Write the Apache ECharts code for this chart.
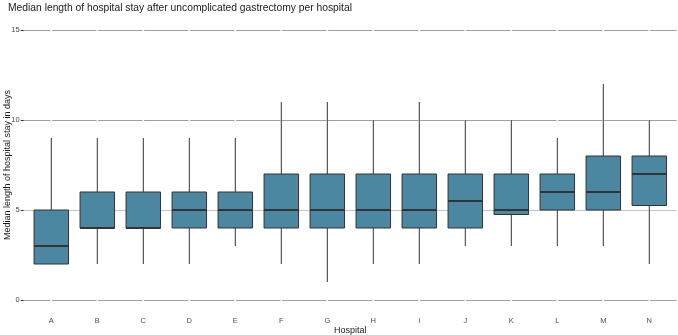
<!DOCTYPE html>
<html>
<head>
<meta charset="utf-8">
<script src="https://cdn.jsdelivr.net/npm/echarts@6/dist/echarts.min.js"></script>
<style>html,body{margin:0;padding:0;background:#fff;}#c{width:678px;height:335px;}</style>
</head>
<body>
<div id="c"></div>
<script>
const hospitals = ['A','B','C','D','E','F','G','H','I','J','K','L','M','N'];
const mins    = [2, 2, 2, 2, 3, 2, 1, 2, 2, 3, 3, 3, 3, 2];
const q1s     = [2, 4, 4, 4, 4, 4, 4, 4, 4, 4, 4.75, 5, 5, 5.25];
const medians = [3, 4, 4, 5, 5, 5, 5, 5, 5, 5.5, 5, 6, 6, 7];
const q3s     = [5, 6, 6, 6, 6, 7, 7, 7, 7, 7, 7, 7, 8, 8];
const maxs    = [9, 9, 9, 9, 9, 11, 11, 10, 11, 10, 10, 9, 12, 10];
const yTicks  = [0, 5, 10, 15];

const boxData = hospitals.map((h, i) => [i, mins[i], q1s[i], medians[i], q3s[i], maxs[i]]);
const FONT = '"Liberation Sans", Arial, sans-serif';

function renderItem(params, api) {
  const i = api.value(0);
  const band = api.size([1, 0])[0];
  const bw = band * 0.75;
  const pMin = api.coord([i, api.value(1)]);
  const pQ1 = api.coord([i, api.value(2)]);
  const pMed = api.coord([i, api.value(3)]);
  const pQ3 = api.coord([i, api.value(4)]);
  const pMax = api.coord([i, api.value(5)]);
  const gTop = api.coord([i, yTicks[yTicks.length - 1] + 0.3]);
  const gBot = api.coord([i, yTicks[0] - 0.3]);
  const x = pMed[0];
  const lineStroke = {stroke: '#333333', lineWidth: 1};
  return {
    type: 'group',
    children: [
      {type: 'line', shape: {x1: x, y1: gTop[1], x2: x, y2: gBot[1]}, style: {stroke: '#ffffff', lineWidth: 1.5}},
      {type: 'line', shape: {x1: x, y1: pQ3[1], x2: x, y2: pMax[1]}, style: lineStroke},
      {type: 'line', shape: {x1: x, y1: pMin[1], x2: x, y2: pQ1[1]}, style: lineStroke},
      {type: 'rect', shape: {x: x - bw / 2, y: pQ3[1], width: bw, height: pQ1[1] - pQ3[1]},
       style: {fill: '#4B87A0', stroke: '#333333', lineWidth: 1}},
      {type: 'line', shape: {x1: x - bw / 2, y1: pMed[1], x2: x + bw / 2, y2: pMed[1]},
       style: {stroke: '#333333', lineWidth: 2.2}}
    ]
  };
}

const chart = echarts.init(document.getElementById('c'), null, {renderer: 'canvas'});
chart.setOption({
  backgroundColor: '#ffffff',
  animation: false,
  title: {
    text: 'Median length of hospital stay after uncomplicated gastrectomy per hospital',
    left: 8, top: 3, padding: 0,
    textStyle: {fontFamily: FONT, fontSize: 10.3, fontWeight: 'normal', color: '#1a1a1a'}
  },
  grid: [
    {left: 23.7, right: 1.3, top: 30, bottom: 35, outerBoundsMode: 'none', containLabel: false},
    {left: 28.3, right: 5.7, top: 30, bottom: 35, outerBoundsMode: 'none', containLabel: false}
  ],
  xAxis: [
    {gridIndex: 0, type: 'value', min: 0, max: 1, show: false},
    {
      gridIndex: 1, type: 'category', data: hospitals, offset: 13.5,
      axisLine: {show: false},
      axisTick: {show: true, alignWithLabel: true, length: 3.5, lineStyle: {color: '#333333', width: 1}},
      axisLabel: {fontFamily: FONT, fontSize: 7.5, color: '#4d4d4d', margin: 3},
      splitLine: {show: false},
      name: 'Hospital', nameLocation: 'middle', nameGap: 12.5, nameMoveOverlap: false,
      nameTextStyle: {fontFamily: FONT, fontSize: 9, color: '#1a1a1a'}
    }
  ],
  yAxis: [
    {
      gridIndex: 0, type: 'value', min: yTicks[0], max: yTicks[yTicks.length - 1], interval: 5,
      axisLine: {show: false},
      axisTick: {show: true, length: 3, lineStyle: {color: '#333333', width: 1}},
      axisLabel: {fontFamily: FONT, fontSize: 7.5, color: '#4d4d4d', margin: 4},
      splitLine: {show: true, lineStyle: {color: ['#a0a0a0', '#c4c4c4', '#a0a0a0', '#a0a0a0'], width: 1.2}},
      name: 'Median length of hospital stay in days', nameLocation: 'middle', nameGap: 12, nameMoveOverlap: false,
      nameTextStyle: {fontFamily: FONT, fontSize: 9, color: '#1a1a1a'}
    },
    {gridIndex: 1, type: 'value', min: yTicks[0], max: yTicks[yTicks.length - 1], show: false}
  ],
  series: [{
    type: 'custom',
    xAxisIndex: 1, yAxisIndex: 1,
    renderItem: renderItem,
    encode: {x: 0, y: [1, 2, 3, 4, 5]},
    data: boxData,
    clip: false
  }]
});
</script>
</body>
</html>
